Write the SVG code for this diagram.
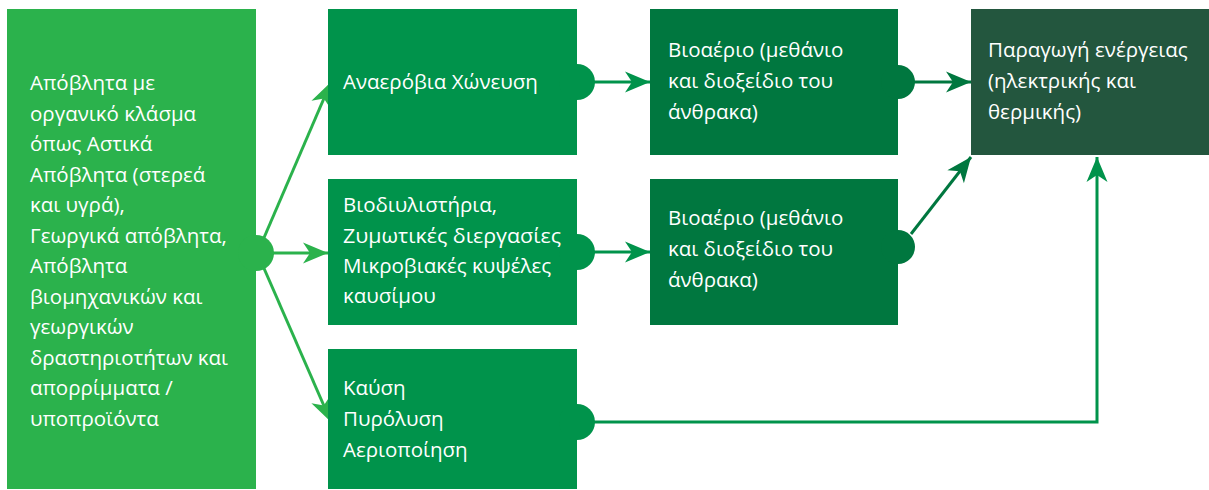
<svg xmlns="http://www.w3.org/2000/svg" width="1209" height="490" viewBox="0 0 1209 490">
<style>
text{font-family:"Open Sans","Noto Sans","DejaVu Sans",sans-serif;font-size:20.5px;fill:#ffffff}
.c1{fill:#2bb24c}.c2{fill:#00934b}.c3{fill:#00773f}.c4{fill:#23563e}
.l1{stroke:#2bb24c;stroke-width:3;fill:none}
.l2{stroke:#00934b;stroke-width:3;fill:none}
.l3{stroke:#00773f;stroke-width:3;fill:none}
</style>
<defs>
<marker id="a1" markerUnits="userSpaceOnUse" viewBox="-26 -11 27 22" refX="0" refY="0" markerWidth="27" markerHeight="22" orient="auto"><path d="M0,0 L-25,-10.5 L-18,0 L-25,10.5 Z" fill="#2bb24c"/></marker>
<marker id="a2" markerUnits="userSpaceOnUse" viewBox="-26 -11 27 22" refX="0" refY="0" markerWidth="27" markerHeight="22" orient="auto"><path d="M0,0 L-25,-10.5 L-18,0 L-25,10.5 Z" fill="#00934b"/></marker>
<marker id="a3" markerUnits="userSpaceOnUse" viewBox="-26 -11 27 22" refX="0" refY="0" markerWidth="27" markerHeight="22" orient="auto"><path d="M0,0 L-25,-10.5 L-18,0 L-25,10.5 Z" fill="#00773f"/></marker>
</defs>
<rect width="1209" height="490" fill="#ffffff"/>
<g id="connectors">
<line class="l1" x1="263" y1="240" x2="331" y2="82" marker-end="url(#a1)"/>
<line class="l1" x1="272" y1="253" x2="328" y2="253" marker-end="url(#a1)"/>
<line class="l1" x1="263" y1="266" x2="331" y2="422" marker-end="url(#a1)"/>
<line class="l2" x1="593" y1="82" x2="650" y2="82" marker-end="url(#a2)"/>
<line class="l2" x1="593" y1="252" x2="650" y2="252" marker-end="url(#a2)"/>
<line class="l3" x1="913" y1="82" x2="971" y2="82" marker-end="url(#a3)"/>
<line class="l3" x1="911" y1="234" x2="971" y2="157" marker-end="url(#a3)"/>
<polyline class="l2" points="593,422 1097,422 1097,157" marker-end="url(#a2)"/>
</g>
<g id="node-source">
<rect class="c1" x="7" y="9" width="249" height="480"/>
<circle class="c1" cx="256" cy="253" r="18"/>
<text x="30"><tspan x="30" y="90">Απόβλητα με</tspan><tspan x="30" y="120.5">οργανικό κλάσμα</tspan><tspan x="30" y="151">όπως Αστικά</tspan><tspan x="30" y="181.5">Απόβλητα (στερεά</tspan><tspan x="30" y="212">και υγρά),</tspan><tspan x="30" y="242.5">Γεωργικά απόβλητα,</tspan><tspan x="30" y="273">Απόβλητα</tspan><tspan x="30" y="303.5">βιομηχανικών και</tspan><tspan x="30" y="334">γεωργικών</tspan><tspan x="30" y="364.5">δραστηριοτήτων και</tspan><tspan x="30" y="395">απορρίμματα /</tspan><tspan x="30" y="425.5">υποπροϊόντα</tspan></text>
</g>
<g id="node-anaerobic">
<rect class="c2" x="328" y="9" width="249" height="146"/>
<circle class="c2" cx="577" cy="82" r="18"/>
<text x="343" y="89">Αναερόβια Χώνευση</text>
</g>
<g id="node-biorefinery">
<rect class="c2" x="328" y="179" width="249" height="146"/>
<circle class="c2" cx="577" cy="252" r="18"/>
<text><tspan x="343" y="212">Βιοδιυλιστήρια,</tspan><tspan x="343" y="243" textLength="218" lengthAdjust="spacingAndGlyphs">Ζυμωτικές διεργασίες</tspan><tspan x="343" y="273">Μικροβιακές κυψέλες</tspan><tspan x="343" y="303">καυσίμου</tspan></text>
</g>
<g id="node-combustion">
<rect class="c2" x="328" y="349" width="249" height="140"/>
<circle class="c2" cx="577" cy="422" r="18"/>
<text><tspan x="343" y="395">Καύση</tspan><tspan x="343" y="426">Πυρόλυση</tspan><tspan x="343" y="457">Αεριοποίηση</tspan></text>
</g>
<g id="node-biogas1">
<rect class="c3" x="650" y="9" width="248" height="146"/>
<circle class="c3" cx="898" cy="82" r="17"/>
<text><tspan x="668" y="57">Βιοαέριο (μεθάνιο</tspan><tspan x="668" y="88">και διοξείδιο του</tspan><tspan x="668" y="119">άνθρακα)</tspan></text>
</g>
<g id="node-biogas2">
<rect class="c3" x="650" y="179" width="248" height="146"/>
<circle class="c3" cx="898" cy="247" r="17"/>
<text><tspan x="668" y="225">Βιοαέριο (μεθάνιο</tspan><tspan x="668" y="256">και διοξείδιο του</tspan><tspan x="668" y="287">άνθρακα)</tspan></text>
</g>
<g id="node-energy">
<rect class="c4" x="971" y="9" width="238" height="146"/>
<text><tspan x="988" y="57">Παραγωγή ενέργειας</tspan><tspan x="988" y="88">(ηλεκτρικής και</tspan><tspan x="988" y="119">θερμικής)</tspan></text>
</g>
</svg>
